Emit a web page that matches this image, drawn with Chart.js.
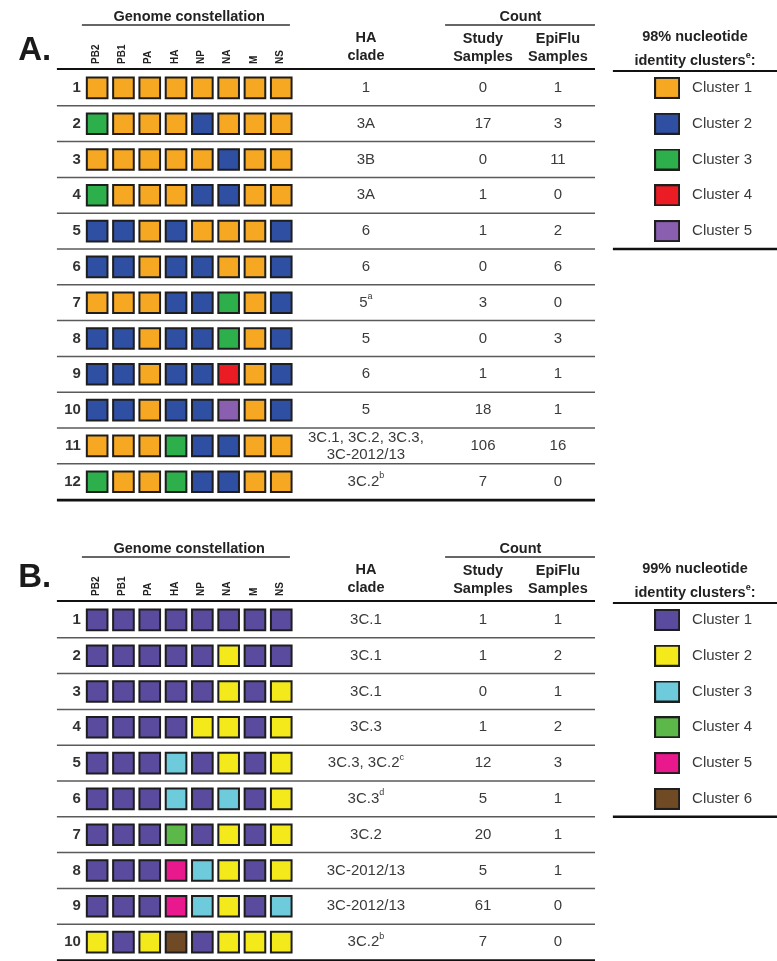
<!DOCTYPE html>
<html>
<head>
<meta charset="utf-8">
<script src="https://cdn.jsdelivr.net/npm/chart.js@4"></script>
<style>
    html, body { margin: 0; padding: 0; background: #fff; }
    #wrap { position: relative; width: 777px; height: 961px; }
    canvas { position: absolute; left: 0; }
    #panelA { top: 0; }
    #panelB { top: 532px; }
</style>
</head>
<body>
<div id="wrap">
    <canvas id="panelA" width="777" height="532"></canvas>
    <canvas id="panelB" width="777" height="429"></canvas>
</div>
<script>
// Gene segments (columns of the constellation)
const genes = ['PB2', 'PB1', 'PA', 'HA', 'NP', 'NA', 'M', 'NS']

// Panel A - 98% nucleotide identity clusters
const constellationA = [
    [1, 1, 1, 1, 1, 1, 1, 1],
    [3, 1, 1, 1, 2, 1, 1, 1],
    [1, 1, 1, 1, 1, 2, 1, 1],
    [3, 1, 1, 1, 2, 2, 1, 1],
    [2, 2, 1, 2, 1, 1, 1, 2],
    [2, 2, 1, 2, 2, 1, 1, 2],
    [1, 1, 1, 2, 2, 3, 1, 2],
    [2, 2, 1, 2, 2, 3, 1, 2],
    [2, 2, 1, 2, 2, 4, 1, 2],
    [2, 2, 1, 2, 2, 5, 1, 2],
    [1, 1, 1, 3, 2, 2, 1, 1],
    [3, 1, 1, 3, 2, 2, 1, 1]
]
const cladesA = ['1', '3A', '3B', '3A', '6', '6', '5^a', '5', '6', '5', '3C.1, 3C.2, 3C.3,\n3C-2012/13', '3C.2^b']
const studyA = [0, 17, 0, 1, 1, 0, 3, 0, 1, 18, 106, 7]
const epifluA = [1, 3, 11, 0, 2, 6, 0, 3, 1, 1, 16, 0]
const clusterNamesA = ['Cluster 1', 'Cluster 2', 'Cluster 3', 'Cluster 4', 'Cluster 5']
const clusterColorsA = ['#F7A823', '#2F4FA3', '#2DB04B', '#EC1C24', '#8A5FAF']

// Panel B - 99% nucleotide identity clusters
const constellationB = [
    [1, 1, 1, 1, 1, 1, 1, 1],
    [1, 1, 1, 1, 1, 2, 1, 1],
    [1, 1, 1, 1, 1, 2, 1, 2],
    [1, 1, 1, 1, 2, 2, 1, 2],
    [1, 1, 1, 3, 1, 2, 1, 2],
    [1, 1, 1, 3, 1, 3, 1, 2],
    [1, 1, 1, 4, 1, 2, 1, 2],
    [1, 1, 1, 5, 3, 2, 1, 2],
    [1, 1, 1, 5, 3, 2, 1, 3],
    [2, 1, 2, 6, 1, 2, 2, 2]
]
const cladesB = ['3C.1', '3C.1', '3C.1', '3C.3', '3C.3, 3C.2^c', '3C.3^d', '3C.2', '3C-2012/13', '3C-2012/13', '3C.2^b']
const studyB = [1, 1, 0, 1, 12, 5, 20, 5, 61, 7]
const epifluB = [1, 2, 1, 2, 3, 1, 1, 1, 0, 0]
const clusterNamesB = ['Cluster 1', 'Cluster 2', 'Cluster 3', 'Cluster 4', 'Cluster 5', 'Cluster 6']
const clusterColorsB = ['#5B4B9F', '#F4E91A', '#6DCBDC', '#5CB848', '#E9188D', '#6F4A24']


const FONT = "'Liberation Sans', Arial, sans-serif"
const ROW_H = 35.8
const COL_W = 26.3
const LEFT = 84

// column layout, in gene-column units of the x scale
const cols = {
    lineLeft: -1.53, lineRight: 18.93,
    rowNum: -0.62,
    clade: 10.22, study: 14.67, epi: 17.52,
    countLeft: 13.23, countRight: 18.93,
    genomeLeft: -0.58, genomeRight: 7.33,
    letter: -3.0,
    swatch: 21.67, legendLabel: 22.62, legendTitle: 22.73,
    legendLeft: 19.61, legendRight: 25.85
}

// draws text with ^x superscripts, centred / left / right on x
let drawRich = function(ctx, str, x, y, size, bold, align) {
    let parts = str.split(/(\^\w)/).filter(s => s.length)
    let normal = (bold ? 'bold ' : '') + size + 'px ' + FONT
    let small = (bold ? 'bold ' : '') + Math.round(size * 0.6) + 'px ' + FONT
    let widths = parts.map(p => {
        ctx.font = p[0] === '^' ? small : normal
        return ctx.measureText(p[0] === '^' ? p.slice(1) : p).width
    })
    let total = widths.reduce((a, b) => a + b, 0)
    let cx = align === 'left' ? x : align === 'right' ? x - total : x - total / 2
    ctx.textAlign = 'left'
    ctx.textBaseline = 'middle'
    parts.forEach((p, i) => {
        if (p[0] === '^') {
            ctx.font = small
            ctx.fillText(p.slice(1), cx, y - size * 0.4)
        } else {
            ctx.font = normal
            ctx.fillText(p, cx, y)
        }
        cx += widths[i]
    })
}

let hLine = function(ctx, x1, x2, y, width, color) {
    ctx.beginPath()
    ctx.moveTo(x1, y)
    ctx.lineTo(x2, y)
    ctx.lineWidth = width
    ctx.strokeStyle = color
    ctx.stroke()
}

// table rules, headers and cell texts
const tablePlugin = {
    id: 'tableText',
    beforeDatasetsDraw(chart, args, opts) {
        let ctx = chart.ctx
        let X = v => chart.scales.x.getPixelForValue(v)
        let Y = v => chart.scales.y.getPixelForValue(v)
        let n = opts.clades.length
        ctx.save()
        for (let i = 1; i < n; i++) {
            hLine(ctx, X(cols.lineLeft), X(cols.lineRight), Y(i + 0.5), 1.5, '#5a5a5a')
        }
        hLine(ctx, X(cols.lineLeft), X(cols.lineRight), Y(0.5) - 1, 2.2, '#111')
        hLine(ctx, X(cols.lineLeft), X(cols.lineRight), Y(n + 0.5) + 0.5, 2.6, '#111')
        // legend rules
        hLine(ctx, X(cols.legendLeft), X(cols.legendRight), Y(0.5) + 1, 2.2, '#111')
        hLine(ctx, X(cols.legendLeft), X(cols.legendRight), Y(opts.clusters.length + 0.5), 2.6, '#111')
        // header underlines
        let top = Y(0.5)
        hLine(ctx, X(cols.genomeLeft), X(cols.genomeRight), top - 45, 1.5, '#333')
        hLine(ctx, X(cols.countLeft), X(cols.countRight), top - 45, 1.5, '#333')
        ctx.restore()
    },
    afterDatasetsDraw(chart, args, opts) {
        let ctx = chart.ctx
        let X = v => chart.scales.x.getPixelForValue(v)
        let Y = v => chart.scales.y.getPixelForValue(v)
        let top = Y(0.5)
        ctx.save()

        // panel letter
        ctx.fillStyle = '#1a1a1a'
        ctx.font = 'bold 33px ' + FONT
        ctx.textAlign = 'left'
        ctx.textBaseline = 'alphabetic'
        ctx.fillText(opts.letter, X(cols.letter), top + opts.letterY)

        // headers
        ctx.fillStyle = '#222'
        drawRich(ctx, 'Genome constellation', X(3.5), top - 53, 14.5, true)
        drawRich(ctx, 'HA', X(cols.clade), top - 32, 14.5, true)
        drawRich(ctx, 'clade', X(cols.clade), top - 14, 14.5, true)
        drawRich(ctx, 'Count', (X(cols.study) + X(cols.epi)) / 2, top - 53, 14.5, true)
        drawRich(ctx, 'Study', X(cols.study), top - 31, 14.5, true)
        drawRich(ctx, 'Samples', X(cols.study), top - 13.5, 14.5, true)
        drawRich(ctx, 'EpiFlu', X(cols.epi), top - 31, 14.5, true)
        drawRich(ctx, 'Samples', X(cols.epi), top - 13.5, 14.5, true)

        // rotated gene labels
        ctx.font = 'bold 10px ' + FONT
        genes.forEach((g, i) => {
            ctx.save()
            ctx.translate(X(i) - 1, top - 6)
            ctx.rotate(-Math.PI / 2)
            ctx.textAlign = 'left'
            ctx.textBaseline = 'middle'
            ctx.fillText(g, 0, 0)
            ctx.restore()
        })

        // legend title
        drawRich(ctx, opts.legendTitle[0], X(cols.legendTitle), top - 33, 14.5, true)
        drawRich(ctx, opts.legendTitle[1], X(cols.legendTitle), top - 9, 14.5, true)

        // rows
        opts.clades.forEach((clade, i) => {
            let yc = Y(i + 1)
            ctx.fillStyle = '#333'
            drawRich(ctx, String(i + 1), X(cols.rowNum), yc, 15, true, 'right')
            ctx.fillStyle = '#3a3a3a'
            let lines = clade.split('\n')
            lines.forEach((l, k) => {
                let off = (k - (lines.length - 1) / 2) * 17
                drawRich(ctx, l, X(cols.clade), yc + off, 15, false)
            })
            drawRich(ctx, String(opts.study[i]), X(cols.study), yc, 15, false)
            drawRich(ctx, String(opts.epiflu[i]), X(cols.epi), yc, 15, false)
        })

        // legend labels
        ctx.fillStyle = '#3a3a3a'
        opts.clusters.forEach((name, k) => {
            drawRich(ctx, name, X(cols.legendLabel), Y(k + 1), 15, false, 'left')
        })
        ctx.restore()
    }
}

let swatch = function(color) {
    let c = document.createElement('canvas')
    c.width = 26
    c.height = 22
    let g = c.getContext('2d')
    g.fillStyle = color
    g.fillRect(0, 0, 26, 22)
    g.strokeStyle = '#1e1e1e'
    g.lineWidth = 2
    g.strokeRect(1, 1, 24, 20)
    return c
}

let makePanel = function(canvasId, letter, letterY, constellation, clades, study, epiflu, clusterNames, clusterColors, legendTitle) {
    let canvas = document.getElementById(canvasId)
    let n = constellation.length

    let cells = []
    let cellColors = []
    constellation.forEach((row, r) => {
        row.forEach((c, g) => {
            cells.push({ x: g, y: r + 1 })
            cellColors.push(clusterColors[c - 1])
        })
    })

    let keys = clusterNames.map((name, k) => ({ x: cols.swatch, y: k + 1 }))

    return new Chart(canvas.getContext('2d'), {
        type: 'scatter',
        data: {
            datasets: [
                {
                    label: 'Genome constellation',
                    data: cells,
                    pointStyle: 'rect',
                    pointRadius: 14.6,
                    pointHoverRadius: 14.6,
                    backgroundColor: cellColors,
                    borderColor: '#1e1e1e',
                    borderWidth: 2,
                    clip: false
                },
                {
                    label: 'Clusters',
                    data: keys,
                    pointStyle: clusterColors.map(swatch),
                    pointRadius: 13,
                    clip: false
                }
            ]
        },
        options: {
            responsive: false,
            animation: false,
            events: [],
            layout: {
                autoPadding: false,
                padding: {
                    left: LEFT,
                    right: Math.max(0, canvas.width - LEFT - (cols.legendRight + 0.5) * COL_W),
                    top: 70,
                    bottom: canvas.height - 70 - n * ROW_H
                }
            },
            scales: {
                x: { type: 'linear', display: false, min: -0.5, max: cols.legendRight },
                y: { type: 'linear', display: false, reverse: true, min: 0.5, max: n + 0.5 }
            },
            plugins: {
                legend: { display: false },
                tooltip: { enabled: false },
                tableText: {
                    letter: letter,
                    letterY: letterY,
                    clades: clades,
                    study: study,
                    epiflu: epiflu,
                    clusters: clusterNames,
                    legendTitle: legendTitle
                }
            }
        },
        plugins: [tablePlugin]
    })
}

makePanel('panelA', 'A.', -10, constellationA, cladesA, studyA, epifluA, clusterNamesA, clusterColorsA,
    ['98% nucleotide', 'identity clusters^e:'])
makePanel('panelB', 'B.', -15, constellationB, cladesB, studyB, epifluB, clusterNamesB, clusterColorsB,
    ['99% nucleotide', 'identity clusters^e:'])
</script>
</body>
</html>
